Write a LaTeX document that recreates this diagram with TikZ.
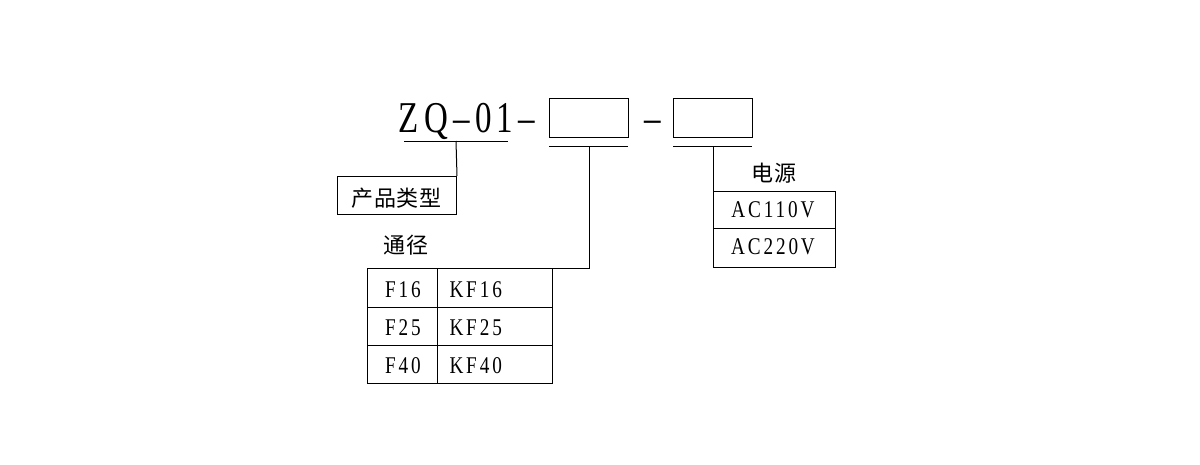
\documentclass[tikz,border=0pt]{standalone}
\usepackage{fontspec}
\setmainfont{Liberation Serif}
\newfontfamily\latn[FakeStretch=0.8,LetterSpace=12]{Liberation Serif}
\newfontfamily\zqfont[FakeStretch=0.75,LetterSpace=12]{Liberation Serif}
\newfontfamily\cjk[LetterSpace=4]{Noto Sans CJK SC}
\begin{document}
\begin{tikzpicture}[x=1pt,y=-1pt,line width=1pt]
\tikzset{
  cell/.style={draw, line width=1pt, inner sep=0pt, anchor=north west},
  lat/.style={font=\latn\fontsize{24}{24}\selectfont, inner sep=0pt, anchor=base},
  han/.style={font=\cjk\fontsize{22}{22}\selectfont, inner sep=0pt, anchor=base},
  ttl/.style={font=\zqfont\fontsize{44}{44}\selectfont, inner sep=0pt, anchor=base},
}
\useasboundingbox (0,0) rectangle (1200,464);
% title
\node[ttl] (zq) at (467,132) {ZQ–01–};
\node[cell, minimum width=79pt, minimum height=39pt] (b1) at (549,98) {};
\node[ttl] (dash) at (653,132) {–};
\node[cell, minimum width=79pt, minimum height=39pt] (b2) at (673,98) {};
% underlines
\coordinate (u0a) at (404,141); \coordinate (u0b) at (508,141);
\coordinate (u1a) at (549,146); \coordinate (u1b) at (628,146);
\coordinate (u2a) at (673,146); \coordinate (u2b) at (752,146);
\draw (u0a) -- (u0b);
\draw (u1a) -- (u1b);
\draw (u2a) -- (u2b);
% product type
\node[cell, minimum width=119pt, minimum height=38pt] (pt) at (337,176) {};
\node[han] (ptt) at (396.5,206.5) {产品类型};
\coordinate (v0) at (456,141);
\draw (v0) -- (pt.north east);
% bore table
\node[han] (tj) at (406,253.5) {通径};
\node[cell, minimum width=70pt, minimum height=39pt] (c11) at (367,268) {};
\node[cell, minimum width=115pt, minimum height=39pt] (c12) at (437,268) {};
\node[cell, minimum width=70pt, minimum height=38pt] (c21) at (367,307) {};
\node[cell, minimum width=115pt, minimum height=38pt] (c22) at (437,307) {};
\node[cell, minimum width=70pt, minimum height=38pt] (c31) at (367,345) {};
\node[cell, minimum width=115pt, minimum height=38pt] (c32) at (437,345) {};
\coordinate (v1) at (589,146);
\coordinate (v1c) at (589,268);
\draw (v1) -- (v1c) -- (c12.north east);
\node[lat] (t11) at (403,297) {F16};
\node[lat, anchor=base west] (t12) at (449,297) {KF16};
\node[lat] (t21) at (403,335) {F25};
\node[lat, anchor=base west] (t22) at (449,335) {KF25};
\node[lat] (t31) at (403,373) {F40};
\node[lat, anchor=base west] (t32) at (449,373) {KF40};
% power
\node[han] (dy) at (774,181.5) {电源};
\node[cell, minimum width=122pt, minimum height=37pt] (p1) at (713,191) {};
\node[cell, minimum width=122pt, minimum height=39pt] (p2) at (713,228) {};
\coordinate (v2) at (713,146);
\draw (v2) -- (p1.north west);
\node[lat] (a1) at (773,217) {AC110V};
\node[lat] (a2) at (773,254) {AC220V};
\end{tikzpicture}
\end{document}
